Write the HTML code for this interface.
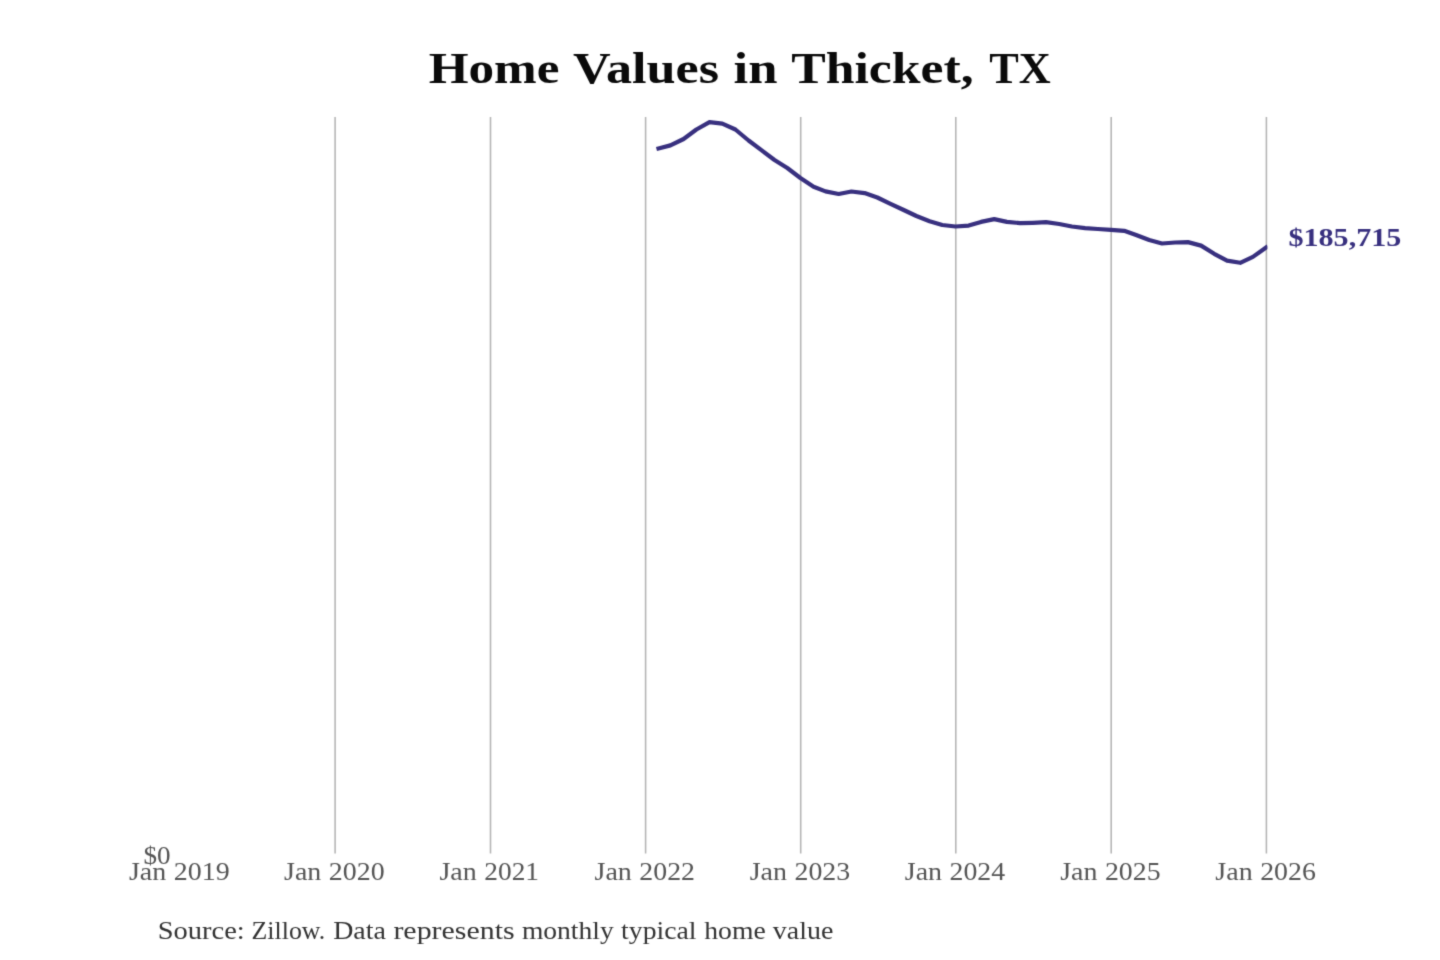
<!DOCTYPE html>
<html lang="en">
<head>
<meta charset="utf-8">
<title>Home Values in Thicket, TX</title>
<style>
html,body{margin:0;padding:0;background:#ffffff;}
body{width:1440px;height:960px;overflow:hidden;}
svg{display:block;will-change:transform;}
text{font-family:"Liberation Serif", serif;}
</style>
</head>
<body>
<svg width="1440" height="960" viewBox="0 0 1440 960">
<defs><filter id="soft" x="0" y="0" width="1440" height="960" filterUnits="userSpaceOnUse" color-interpolation-filters="sRGB"><feConvolveMatrix order="3" kernelMatrix="0.0192 0.1001 0.0192 0.1001 0.5228 0.1001 0.0192 0.1001 0.0192" divisor="1" edgeMode="duplicate" preserveAlpha="false"/></filter><clipPath id="axclip"><rect x="180" y="110" width="1087.4" height="745"/></clipPath></defs>
<g filter="url(#soft)">
<g stroke="#b4b4b4" stroke-width="1.55" fill="none">
<line x1="335.1" y1="117" x2="335.1" y2="853.5"/>
<line x1="490.5" y1="117" x2="490.5" y2="853.5"/>
<line x1="645.6" y1="117" x2="645.6" y2="853.5"/>
<line x1="800.7" y1="117" x2="800.7" y2="853.5"/>
<line x1="955.8" y1="117" x2="955.8" y2="853.5"/>
<line x1="1111.2" y1="117" x2="1111.2" y2="853.5"/>
<line x1="1266.4" y1="117" x2="1266.4" y2="853.5"/>
</g>
<polyline clip-path="url(#axclip)" points="658.5,148.5 670.4,145.4 683.6,139.0 696.4,129.5 709.5,122.2 722.3,123.6 735.4,129.5 748.6,140.5 761.4,150.2 774.5,160.0 787.3,168.0 800.4,178.0 813.6,186.8 825.5,191.4 838.7,194.0 851.4,191.5 864.6,193.1 877.3,197.5 890.5,203.8 903.7,210.0 916.4,216.0 929.6,221.2 942.3,225.0 955.5,226.5 968.7,225.6 981.0,221.9 994.2,219.1 1006.9,221.9 1020.1,223.1 1032.8,222.8 1046.0,222.2 1059.2,224.0 1071.9,226.5 1085.1,228.1 1097.8,229.0 1111.0,229.8 1124.2,230.8 1136.1,235.0 1149.2,240.0 1162.0,243.5 1175.2,242.5 1187.9,242.1 1201.1,245.6 1214.2,253.8 1227.0,260.6 1240.2,262.8 1252.9,256.9 1266.1,247.5" fill="none" stroke="#38307f" stroke-width="4.2" stroke-linejoin="round" stroke-linecap="square"/>
<text y="83.0" font-size="44.5" font-weight="bold" fill="#0a0a0a"><tspan x="428.73" textLength="130.76" lengthAdjust="spacingAndGlyphs">Home</tspan> <tspan x="573.09" textLength="145.99" lengthAdjust="spacingAndGlyphs">Values</tspan> <tspan x="733.57" textLength="43.95" lengthAdjust="spacingAndGlyphs">in</tspan> <tspan x="791.2" textLength="182.41" lengthAdjust="spacingAndGlyphs">Thicket,</tspan> <tspan x="989.21" textLength="61.54" lengthAdjust="spacingAndGlyphs">TX</tspan></text>
<text y="863.5" font-size="25.0" font-weight="normal" fill="#555555"><tspan x="143.44" textLength="27.12" lengthAdjust="spacingAndGlyphs">$0</tspan></text>
<text y="879.7" font-size="25.0" font-weight="normal" fill="#555555"><tspan x="128.98" textLength="37.27" lengthAdjust="spacingAndGlyphs">Jan</tspan> <tspan x="173.76" textLength="55.93" lengthAdjust="spacingAndGlyphs">2019</tspan></text>
<text y="879.7" font-size="25.0" font-weight="normal" fill="#555555"><tspan x="284.08" textLength="37.27" lengthAdjust="spacingAndGlyphs">Jan</tspan> <tspan x="328.86" textLength="55.87" lengthAdjust="spacingAndGlyphs">2020</tspan></text>
<text y="879.7" font-size="25.0" font-weight="normal" fill="#555555"><tspan x="439.48" textLength="37.27" lengthAdjust="spacingAndGlyphs">Jan</tspan> <tspan x="484.28" textLength="54.74" lengthAdjust="spacingAndGlyphs">2021</tspan></text>
<text y="879.7" font-size="25.0" font-weight="normal" fill="#555555"><tspan x="594.58" textLength="37.27" lengthAdjust="spacingAndGlyphs">Jan</tspan> <tspan x="639.36" textLength="55.63" lengthAdjust="spacingAndGlyphs">2022</tspan></text>
<text y="879.7" font-size="25.0" font-weight="normal" fill="#555555"><tspan x="749.68" textLength="37.27" lengthAdjust="spacingAndGlyphs">Jan</tspan> <tspan x="794.46" textLength="55.72" lengthAdjust="spacingAndGlyphs">2023</tspan></text>
<text y="879.7" font-size="25.0" font-weight="normal" fill="#555555"><tspan x="904.78" textLength="37.27" lengthAdjust="spacingAndGlyphs">Jan</tspan> <tspan x="949.56" textLength="55.59" lengthAdjust="spacingAndGlyphs">2024</tspan></text>
<text y="879.7" font-size="25.0" font-weight="normal" fill="#555555"><tspan x="1060.18" textLength="37.27" lengthAdjust="spacingAndGlyphs">Jan</tspan> <tspan x="1104.96" textLength="55.65" lengthAdjust="spacingAndGlyphs">2025</tspan></text>
<text y="879.7" font-size="25.0" font-weight="normal" fill="#555555"><tspan x="1215.38" textLength="37.27" lengthAdjust="spacingAndGlyphs">Jan</tspan> <tspan x="1260.16" textLength="55.71" lengthAdjust="spacingAndGlyphs">2026</tspan></text>
<text y="246" font-size="24.3" font-weight="bold" fill="#38307f"><tspan x="1288.47" textLength="112.82" lengthAdjust="spacingAndGlyphs">$185,715</tspan></text>
<text y="938.75" font-size="24.7" font-weight="normal" fill="#333333"><tspan x="157.77" textLength="86.97" lengthAdjust="spacingAndGlyphs">Source:</tspan> <tspan x="251.55" textLength="73.71" lengthAdjust="spacingAndGlyphs">Zillow.</tspan> <tspan x="333.15" textLength="52.76" lengthAdjust="spacingAndGlyphs">Data</tspan> <tspan x="393.43" textLength="121.14" lengthAdjust="spacingAndGlyphs">represents</tspan> <tspan x="521.92" textLength="91.82" lengthAdjust="spacingAndGlyphs">monthly</tspan> <tspan x="621.12" textLength="75.41" lengthAdjust="spacingAndGlyphs">typical</tspan> <tspan x="704.26" textLength="61.45" lengthAdjust="spacingAndGlyphs">home</tspan> <tspan x="772.86" textLength="60.52" lengthAdjust="spacingAndGlyphs">value</tspan></text>
</g>
</svg>
</body>
</html>
